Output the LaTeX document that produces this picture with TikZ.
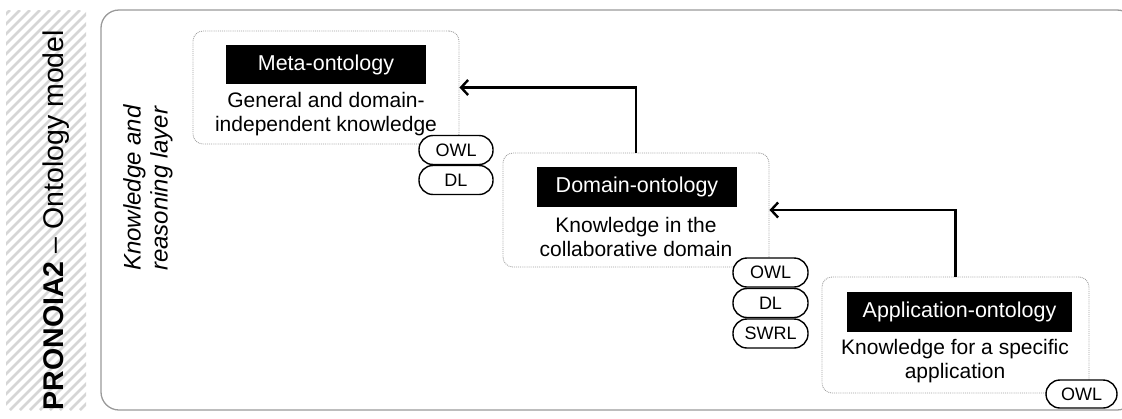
\documentclass[tikz,border=0pt]{standalone}
\usepackage{fontspec}
\setmainfont{Liberation Sans}
\usetikzlibrary{arrows.meta}
\definecolor{hatchgray}{HTML}{D6D6D6}
\definecolor{framegray}{HTML}{9A9A9A}
\definecolor{dotgray}{HTML}{A0A0A0}
\tikzset{
  ontobox/.style={draw=dotgray, densely dotted, line width=0.9pt, rounded corners=10pt, inner sep=0pt},
  ontolabel/.style={fill=black, text=white, font=\fontsize{21.5}{25}\selectfont, inner sep=0pt},
  ontodesc/.style={align=center, font=\fontsize{21}{23.5}\selectfont, inner sep=0pt},
  pill/.style={draw=black, line width=1.4pt, rounded corners=14pt, minimum height=29pt, inner sep=0pt, fill=white, font=\fontsize{18}{20}\selectfont},
  link/.style={line width=2.1pt, -{Straight Barb[length=7pt,width=15pt,line width=2.4pt]}},
}
\begin{document}
\begin{tikzpicture}[x=1pt,y=-1pt]
\useasboundingbox (0,0) rectangle (1122,418);
% hatched strip
\begin{scope}
\clip (6,10) rectangle (86,410);
\foreach \i in {-440,-430,...,90} {
  \draw[hatchgray, line width=2.6pt] (\i,410) -- (\i+400,10);
}
\end{scope}
\node[rotate=90, font=\fontsize{28.5}{32}\selectfont, inner sep=0pt] (title) at (56,220) {\textbf{PRONOIA2} – Ontology model};
% outer frame
\draw[framegray, line width=1.3pt, rounded corners=18pt] (101,10) rectangle (1135,410);
\node[rotate=90, align=left, font=\fontsize{24}{27}\selectfont\itshape, inner sep=0pt] (layer) at (148,188) {Knowledge and\\reasoning layer};
% meta
\node[ontobox, minimum width=266pt, minimum height=113pt] (meta) at (326,87.5) {};
\node[ontolabel, minimum width=200pt, minimum height=39pt] (metal) at (326,64.5) {Meta-ontology};
\node[ontodesc] (metad) at (326,114) {General and domain-\\independent knowledge};
\node[pill, minimum width=74pt] (mowl) at (456,150) {OWL};
\node[pill, minimum width=74pt] (mdl) at (456,180) {DL};
% domain
\node[ontobox, minimum width=266pt, minimum height=114pt] (dom) at (636,210) {};
\node[ontolabel, minimum width=200pt, minimum height=40pt] (doml) at (637,187) {Domain-ontology};
\node[ontodesc] (domd) at (636,237) {Knowledge in the\\collaborative domain};
\node[pill, minimum width=75pt] (dowl) at (770.5,272.5) {OWL};
\node[pill, minimum width=75pt] (ddl) at (770.5,303) {DL};
\node[pill, minimum width=75pt] (dswrl) at (770.5,333.5) {SWRL};
% application
\node[ontobox, minimum width=267pt, minimum height=116pt] (app) at (955.5,335) {};
\node[ontolabel, minimum width=225pt, minimum height=40pt] (appl) at (959.5,312) {Application-ontology};
\node[ontodesc] (appd) at (955,361) {Knowledge for a specific\\application};
\node[pill, minimum width=71pt, minimum height=28pt] (aowl) at (1081.5,394) {OWL};
% connectors
\draw[link] (dom.north) |- (meta.east);
\draw[link] (app.north) |- (dom.east);
\end{tikzpicture}
\end{document}
